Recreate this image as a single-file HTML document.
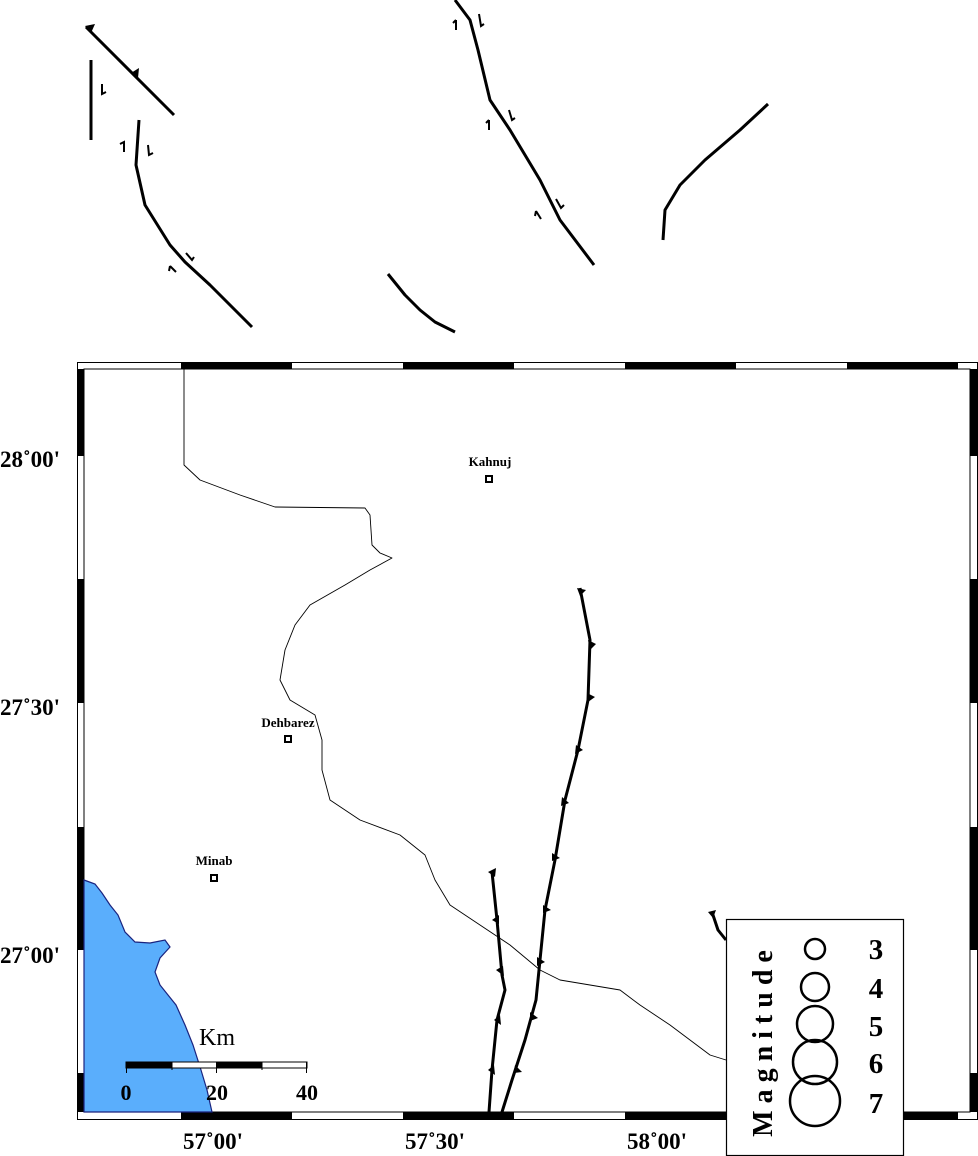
<!DOCTYPE html>
<html><head><meta charset="utf-8"><style>
html,body{margin:0;padding:0;background:#fff;}
svg{display:block;}
.lbl{font-family:"Liberation Serif",serif;font-weight:bold;}
</style></head><body>
<svg width="978" height="1156" viewBox="0 0 978 1156" xmlns="http://www.w3.org/2000/svg">
<!-- top faults -->
<g fill="none" stroke="#000" stroke-width="3" stroke-linejoin="round">
<polyline points="86,27 174,115"/>
<polyline points="91,60 91,140"/>
<polyline points="139,120 136,165 145,205 170,245 185,262 210,285 252,327"/>
<polyline points="455,0 470,20 478,50 490,100 510,130 540,180 560,220 594,265"/>
<polyline points="388,274 405,295 420,310 435,322 455,332"/>
<polyline points="663,240 665,210 680,185 705,160 740,130 768,104"/>
</g>
<g fill="#000">
<path d="M85,26 L95,24 L91,33 z"/><path d="M131,73 L139,68 L138,78 z"/>
</g>
<g stroke="#000" stroke-width="2" fill="none">
<path d="M102,84 L102,94 L106,92"/><path d="M124,152 L124,142 L120,144"/><path d="M148,145 L149,155 L153,153"/>
<path d="M170,266 L176,272 M170,266 L169,271"/><path d="M186,253 L192,260 L194,257"/>
<path d="M456,20 L456,30 M456,20 L453,23"/><path d="M479,14 L481,26 L484,24"/>
<path d="M489,120 L489,130 M489,120 L486,123"/><path d="M509,110 L512,120 L515,118"/>
<path d="M536,211 L541,219 M536,211 L535,216"/><path d="M556,199 L561,208 L564,205"/>
</g>
<!-- map frame -->
<rect x="77.5" y="362.5" width="900" height="757" fill="#fff" stroke="#000" stroke-width="1"/>
<rect x="84" y="369" width="886" height="743" fill="#fff" stroke="#000" stroke-width="1"/>
<g fill="#000">
<rect x="181" y="363" width="111" height="6"/><rect x="403" y="363" width="111" height="6"/><rect x="625" y="363" width="111" height="6"/><rect x="847" y="363" width="111" height="6"/>
<rect x="181" y="1112" width="111" height="7"/><rect x="403" y="1112" width="111" height="7"/><rect x="625" y="1112" width="111" height="7"/><rect x="847" y="1112" width="111" height="7"/>
<rect x="78" y="369" width="6" height="87"/><rect x="78" y="579" width="6" height="124"/><rect x="78" y="827" width="6" height="123"/><rect x="78" y="1073" width="6" height="39"/>
<rect x="970" y="369" width="7" height="87"/><rect x="970" y="579" width="7" height="124"/><rect x="970" y="827" width="7" height="123"/><rect x="970" y="1073" width="7" height="39"/>
</g>
<!-- sea -->
<path d="M84,880 L95,884 L102,893 L110,905 L118,915 L125,932 L135,942 L150,943 L165,940 L170,947 L160,958 L155,972 L160,985 L168,995 L176,1005 L185,1025 L193,1045 L201,1070 L207,1090 L212,1112 L84,1112 z" fill="#5aaefc" stroke="#1a237e" stroke-width="1.2"/>
<!-- border -->
<polyline fill="none" stroke="#000" stroke-width="0.9" stroke-linejoin="round" points="184,369 184,465 200,480 240,495 275,507 365,508 370,515 372,545 380,553 392,558 370,570 345,585 310,605 295,625 285,650 280,680 290,700 315,715 322,740 322,770 330,800 360,820 400,835 425,855 435,880 450,905 480,925 510,945 540,970 560,980 590,985 620,990 640,1005 670,1025 710,1055 726,1060"/>
<!-- thrust faults -->
<g fill="none" stroke="#000" stroke-width="3" stroke-linejoin="round">
<polyline points="580,588 590,640 588,700 578,750 565,800 555,860 545,910 540,960 536,1000 525,1040 512,1080 502,1112"/>
<polyline points="492,872 497,920 502,975 505,990 497,1020 492,1070 489,1112"/>
<polyline points="712,912 718,930 726,940"/>
</g>
<g fill="#000">
<path d="M577,588 L586,590 L580,596z"/><path d="M588,640 L596,644 L590,650z"/><path d="M587,693 L595,697 L588,702z"/><path d="M576,745 L583,750 L575,754z"/><path d="M562,797 L569,803 L561,806z"/><path d="M552,853 L560,858 L552,861z"/><path d="M543,905 L551,910 L543,913z"/><path d="M537,957 L545,962 L537,966z"/><path d="M530,1012 L538,1018 L530,1021z"/><path d="M515,1065 L522,1072 L514,1073z"/>
<path d="M488,872 L496,868 L495,877z"/><path d="M492,920 L499,915 L499,924z"/><path d="M496,970 L503,966 L504,976z"/><path d="M494,1020 L500,1015 L501,1025z"/><path d="M488,1070 L494,1065 L495,1075z"/>
<path d="M708,912 L716,910 L713,918z"/>
</g>
<!-- towns -->
<g fill="#fff" stroke="#000" stroke-width="2"><rect x="486" y="476" width="6" height="6"/><rect x="285" y="736" width="6" height="6"/><rect x="211" y="875" width="6" height="6"/></g>
<g class="lbl" font-size="13" text-anchor="middle"><text x="490" y="466">Kahnuj</text><text x="288" y="727">Dehbarez</text><text x="214" y="865">Minab</text></g>
<!-- axis labels -->
<g class="lbl" font-size="23"><text x="0" y="467">28˚00'</text><text x="0" y="715">27˚30'</text><text x="0" y="963">27˚00'</text></g>
<g class="lbl" font-size="23" text-anchor="middle"><text x="213" y="1149">57˚00'</text><text x="435" y="1149">57˚30'</text><text x="657" y="1149">58˚00'</text></g>
<!-- scale bar -->
<rect x="126" y="1062" width="181" height="6" fill="#fff" stroke="#000" stroke-width="1"/>
<rect x="126" y="1062" width="46" height="6" fill="#000"/><rect x="216" y="1062" width="46" height="6" fill="#000"/>
<g stroke="#000" stroke-width="1"><line x1="126.5" y1="1062" x2="126.5" y2="1073"/><line x1="172" y1="1062" x2="172" y2="1070"/><line x1="216.5" y1="1062" x2="216.5" y2="1073"/><line x1="262" y1="1062" x2="262" y2="1070"/><line x1="306.5" y1="1062" x2="306.5" y2="1073"/></g>
<text x="217" y="1045" font-family="Liberation Serif,serif" font-size="24" text-anchor="middle">Km</text>
<g class="lbl" font-size="22" text-anchor="middle"><text x="126" y="1100">0</text><text x="217" y="1100">20</text><text x="307" y="1100">40</text></g>
<!-- legend -->
<rect x="726.5" y="919.5" width="177" height="236" fill="#fff" stroke="#000" stroke-width="1.2"/>
<g fill="none" stroke="#000" stroke-width="2.5"><circle cx="815" cy="949" r="10"/><circle cx="815" cy="987" r="14"/><circle cx="815" cy="1024" r="18"/><circle cx="815" cy="1062" r="22"/><circle cx="815" cy="1101" r="25"/></g>
<g class="lbl" font-size="29" text-anchor="middle"><text x="876" y="959">3</text><text x="876" y="998">4</text><text x="876" y="1036">5</text><text x="876" y="1073">6</text><text x="876" y="1113">7</text></g>
<text class="lbl" font-size="28" letter-spacing="7" text-anchor="middle" transform="translate(772,1040) rotate(-90)">Magnitude</text>
</svg>
</body></html>
